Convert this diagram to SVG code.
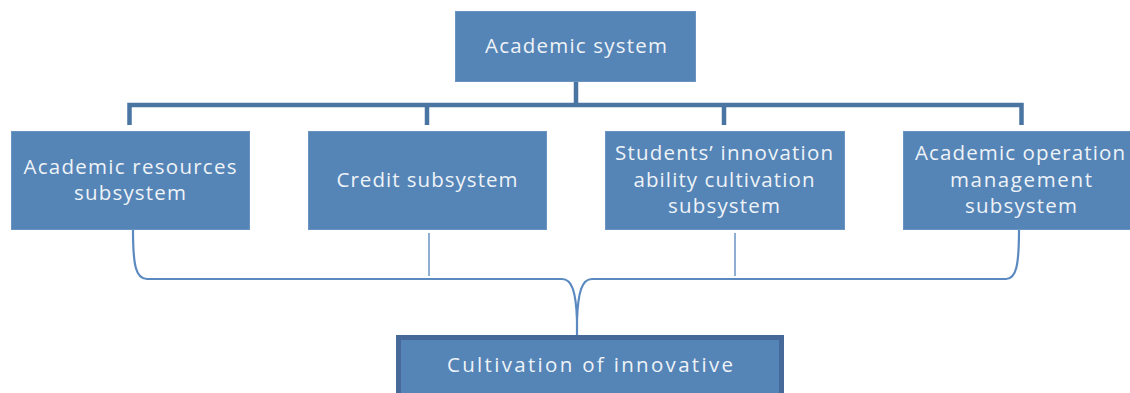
<svg xmlns="http://www.w3.org/2000/svg" width="1130" height="393" viewBox="0 0 1130 393">
<style>
.box{fill:#5584b6;stroke:#6a95c2;stroke-width:1}
.t{font-family:"Open Sans","Liberation Sans",sans-serif;font-size:20.5px;fill:#eef3f8;text-anchor:middle}
.bar{fill:none;stroke:#4a75a2;stroke-width:4.5}
.brace{fill:none;stroke:#5b8ac0;stroke-width:2.2}
.thin{fill:none;stroke:#6a95c2;stroke-width:1.5}
</style>
<rect width="1130" height="393" fill="#ffffff"/>
<g id="connectors">
<path class="bar" d="M576,82 V105 M129.5,125 V105 H1021.5 V125 M427,105 V125 M724,105 V125"/>
<path class="brace" d="M133,230 C133,266 136,279 147,279 L562,279 C572,279 576,292 577,320 L577,337"/>
<path class="brace" d="M1019,230 C1019,266 1016,279 1006,279 L592,279 C582,279 578,292 577,320"/>
<path class="thin" d="M429,233 V276 M735,233 V276"/>
</g>
<g id="academic-system">
<rect class="box" x="455.5" y="11.5" width="240" height="70"/>
<text class="t" x="576" y="53" font-size="21.5" textLength="182">Academic system</text>
</g>
<g id="academic-resources">
<rect class="box" x="11.5" y="131.5" width="238" height="98"/>
<text class="t" x="130" y="174" textLength="213">Academic resources</text>
<text class="t" x="130" y="200" textLength="112">subsystem</text>
</g>
<g id="credit">
<rect class="box" x="308.5" y="131.5" width="238" height="98"/>
<text class="t" x="427" y="187" textLength="181">Credit subsystem</text>
</g>
<g id="students-innovation">
<rect class="box" x="605.5" y="131.5" width="239" height="98"/>
<text class="t" x="724" y="160" textLength="218">Students’ innovation</text>
<text class="t" x="724" y="187" textLength="181">ability cultivation</text>
<text class="t" x="724" y="213" textLength="112">subsystem</text>
</g>
<g id="academic-operation">
<rect class="box" x="903.5" y="131.5" width="240" height="98"/>
<text class="t" x="1020" y="160" textLength="210">Academic operation</text>
<text class="t" x="1021" y="187" textLength="142">management</text>
<text class="t" x="1021" y="213" textLength="112">subsystem</text>
</g>
<g id="cultivation">
<rect x="398.5" y="337.5" width="383" height="70" fill="#5584b6" stroke="#46699a" stroke-width="5"/>
<text class="t" x="590" y="372" font-size="24" textLength="286">Cultivation of innovative</text>
</g>
</svg>
